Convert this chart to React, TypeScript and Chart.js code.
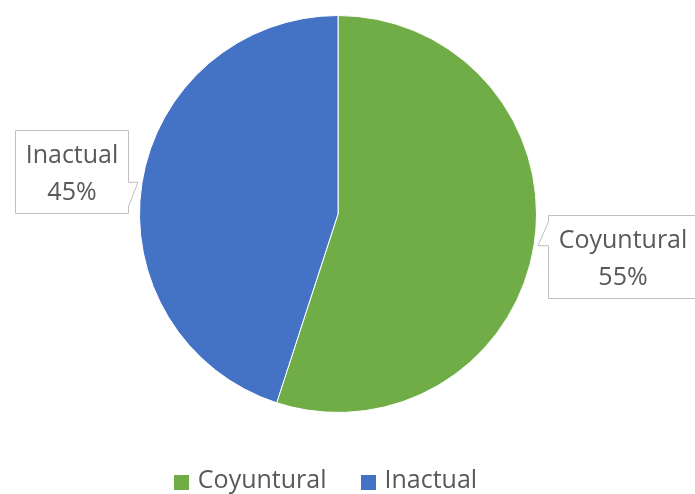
import React, { useEffect, useRef } from 'react';
import { Chart, registerables } from 'chart.js';

Chart.register(...registerables);

const categories: string[] = ['Coyuntural', 'Inactual'];
const values: number[] = [55, 45];
const percentLabels: string[] = ['55%', '45%'];
const sliceColors: string[] = ['#70AD47', '#4472C4'];

const FONT = '25px "Open Sans"';
const TEXT_COLOR = '#595959';
const BOX_BORDER = '#BFBFBF';

const calloutPlugin = {
  id: 'callouts',
  afterDatasetsDraw(chart: any) {
    const ctx: CanvasRenderingContext2D = chart.ctx;
    const meta = chart.getDatasetMeta(0);
    ctx.save();
    ctx.font = FONT;
    meta.data.forEach((arc: any, i: number) => {
      const p = arc.getProps(['x', 'y', 'startAngle', 'endAngle', 'outerRadius'], true);
      const mid = (p.startAngle + p.endAngle) / 2;
      const tipR = p.outerRadius + 4;
      const tx = p.x + Math.cos(mid) * tipR;
      const ty = p.y + Math.sin(mid) * tipR;
      const right = Math.cos(mid) >= 0;
      const down = Math.sin(mid) >= 0;
      const line1 = String(chart.data.labels[i]);
      const line2 = percentLabels[i];
      const w = Math.round(Math.max(ctx.measureText(line1).width, ctx.measureText(line2).width) + 20);
      const h = 83;
      const bx = Math.round(right ? tx + 9.5 : tx - 9.5 - w) + 0.5;
      const cy = ty + (down ? 10.5 : -10.5);
      const by = Math.round(cy - h / 2) + 0.5;
      const baseA = ty;
      const baseB = ty + (down ? -24 : 24);
      const bMin = Math.min(baseA, baseB);
      const bMax = Math.max(baseA, baseB);
      ctx.beginPath();
      if (right) {
        ctx.moveTo(bx, by);
        ctx.lineTo(bx + w, by);
        ctx.lineTo(bx + w, by + h);
        ctx.lineTo(bx, by + h);
        ctx.lineTo(bx, bMax);
        ctx.lineTo(tx, ty);
        ctx.lineTo(bx, bMin);
        ctx.closePath();
      } else {
        ctx.moveTo(bx, by);
        ctx.lineTo(bx + w, by);
        ctx.lineTo(bx + w, bMin);
        ctx.lineTo(tx, ty);
        ctx.lineTo(bx + w, bMax);
        ctx.lineTo(bx + w, by + h);
        ctx.lineTo(bx, by + h);
        ctx.closePath();
      }
      ctx.fillStyle = '#FFFFFF';
      ctx.fill();
      ctx.strokeStyle = BOX_BORDER;
      ctx.lineWidth = 1;
      ctx.stroke();
      ctx.fillStyle = TEXT_COLOR;
      ctx.textAlign = 'center';
      ctx.textBaseline = 'alphabetic';
      ctx.fillText(line1, bx + w / 2, by + 32.5);
      ctx.fillText(line2, bx + w / 2, by + 69);
    });
    ctx.restore();
  },
};

const legendPlugin = {
  id: 'customLegend',
  afterDraw(chart: any) {
    const ctx: CanvasRenderingContext2D = chart.ctx;
    ctx.save();
    ctx.font = FONT;
    const box = 15;
    const gap = 9;
    const itemGap = 34;
    const labels: string[] = chart.data.labels;
    const colors: string[] = chart.data.datasets[0].backgroundColor;
    const widths = labels.map((l) => box + gap + ctx.measureText(l).width);
    const total = widths.reduce((a, b) => a + b, 0) + itemGap * (labels.length - 1);
    let x = chart.width / 2 - 22 - total / 2;
    const baseline = 488;
    labels.forEach((l, i) => {
      ctx.fillStyle = colors[i];
      ctx.fillRect(Math.round(x), baseline - 13, box, box);
      ctx.fillStyle = TEXT_COLOR;
      ctx.textAlign = 'left';
      ctx.textBaseline = 'alphabetic';
      ctx.fillText(l, x + box + gap, baseline);
      x += widths[i] + itemGap;
    });
    ctx.restore();
  },
};

export default function App() {
  const ref = useRef<HTMLCanvasElement | null>(null);
  useEffect(() => {
    if (!ref.current) return;
    const chart = new Chart(ref.current, {
      type: 'pie',
      data: {
        labels: categories,
        datasets: [
          {
            data: values,
            backgroundColor: sliceColors,
            borderColor: '#FFFFFF',
            borderWidth: 1,
          },
        ],
      },
      options: {
        responsive: false,
        animation: false,
        layout: { padding: { top: 15, bottom: 81, left: 0, right: 19 } },
        plugins: {
          legend: { display: false },
          tooltip: { enabled: false },
        },
      },
      plugins: [calloutPlugin, legendPlugin],
    });
    return () => chart.destroy();
  }, []);
  return (
    <div style={{ position: 'absolute', left: 0, top: 0, width: 695, height: 494, background: '#fff' }}>
      <canvas ref={ref} width={695} height={494} style={{ display: 'block' }} />
    </div>
  );
}
